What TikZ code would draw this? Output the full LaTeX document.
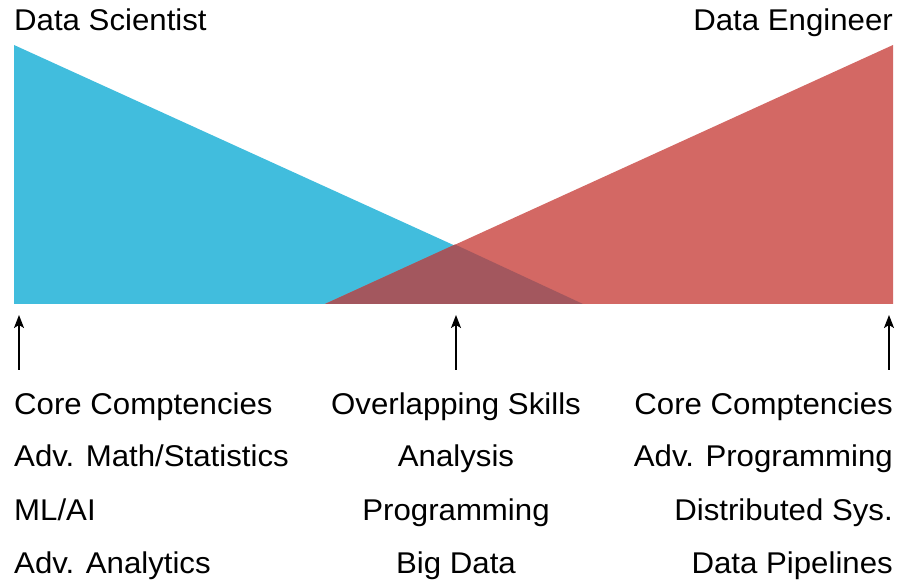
\documentclass[tikz,border=0pt]{standalone}
\usepackage{fontspec}
\setmainfont{Liberation Sans}[FakeStretch=1.04]
\usetikzlibrary{arrows.meta, positioning}
\definecolor{dsblue}{HTML}{41BDDD}
\definecolor{dered}{HTML}{D36864}
\definecolor{overlapc}{HTML}{A3575E}
\tikzset{
    lbl/.style={inner sep=0pt, font=\fontsize{30}{36}\selectfont},
    arrow/.style={line width=1.5pt, -{Stealth[length=13pt, width=10pt, inset=3pt]}},
}
\begin{document}
\begin{tikzpicture}[x=1pt, y=-1pt]
    \useasboundingbox (0,0) rectangle (903,585);

    \fill[dsblue] (14,45) -- (14,304) -- (583,304) -- cycle;
    \fill[dered] (893,45) -- (893,304) -- (325,304) -- cycle;
    \fill[overlapc] (325,304) -- (583,304) -- (455,244.5) -- cycle;

    \node [lbl, anchor=base west] (DS) at (14,31) {Data Scientist};
    \node [lbl, anchor=base east] (DE) at (893,31) {Data Engineer};

    \node [lbl, anchor=base west] (L1) at (14,414) {Core Comptencies};
    \node [lbl, anchor=base west] (L2) at (14,467) {Adv. Math/Statistics};
    \node [lbl, anchor=base west] (L3) at (14,520) {ML/AI};
    \node [lbl, anchor=base west] (L4) at (14,573) {Adv. Analytics};

    \node [lbl, anchor=base] (M1) at (456,414) {Overlapping Skills};
    \node [lbl, anchor=base] (M2) at (456,467) {Analysis};
    \node [lbl, anchor=base] (M3) at (456,520) {Programming};
    \node [lbl, anchor=base] (M4) at (456,573) {Big Data};

    \node [lbl, anchor=base east] (R1) at (893,414) {Core Comptencies};
    \node [lbl, anchor=base east] (R2) at (893,467) {Adv. Programming};
    \node [lbl, anchor=base east] (R3) at (893,520) {Distributed Sys.};
    \node [lbl, anchor=base east] (R4) at (893,573) {Data Pipelines};

    \coordinate (LA) at (19,370);
    \coordinate (LB) at (19,315);
    \coordinate (MA) at (456,370);
    \coordinate (MB) at (456,315);
    \coordinate (RA) at (889,370);
    \coordinate (RB) at (889,315);

    \draw [arrow] (LA) -- (LB);
    \draw [arrow] (MA) -- (MB);
    \draw [arrow] (RA) -- (RB);
\end{tikzpicture}
\end{document}
